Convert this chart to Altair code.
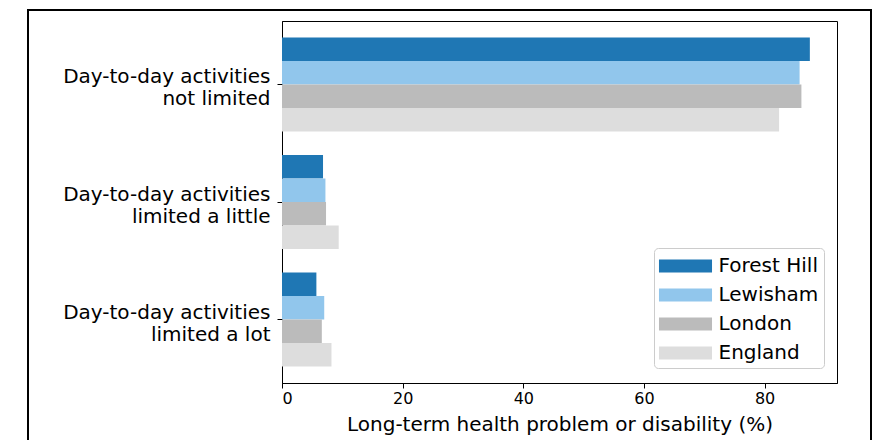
import altair as alt
import pandas as pd

categories = ["Day-to-day activities\nnot limited",
              "Day-to-day activities\nlimited a little",
              "Day-to-day activities\nlimited a lot"]
series = ["Forest Hill", "Lewisham", "London", "England"]
forest_hill = [87.5, 6.8, 5.7]
lewisham = [85.8, 7.2, 7.0]
london = [86.1, 7.3, 6.6]
england = [82.4, 9.4, 8.2]
colors = ["#1f77b4", "#91c6ec", "#bbbbbb", "#dddddd"]
x_ticks = [0, 20, 40, 60, 80]

values = [forest_hill, lewisham, london, england]
rows = []
for s, vals in zip(series, values):
    for c, v in zip(categories, vals):
        rows.append({"category": c, "series": s, "value": v})
df = pd.DataFrame(rows)

FONT = "DejaVu Sans"

bars = alt.Chart(df).mark_bar(opacity=1).encode(
    x=alt.X("value:Q",
            scale=alt.Scale(domain=[0, 92], nice=False, zero=True),
            axis=alt.Axis(values=x_ticks, title="Long-term health problem or disability (%)",
                          grid=False, tickSize=5, labelPadding=2, titlePadding=8,
                          labelFontSize=16)),
    y=alt.Y("category:N", sort=categories,
            scale=alt.Scale(paddingInner=0.2, paddingOuter=0.14),
            axis=alt.Axis(title=None, labelExpr="split(datum.label, '\\n')",
                          labelLineHeight=22, tickSize=5, labelPadding=7, labelLimit=400,
                          labelFontSize=20, labelOffset=-7)),
    yOffset=alt.YOffset("series:N", sort=series,
                        scale=alt.Scale(paddingInner=0, paddingOuter=0)),
    color=alt.Color("series:N", sort=series,
                    scale=alt.Scale(domain=series, range=colors),
                    legend=alt.Legend(title=None, orient="none", legendX=372, legendY=227,
                                      symbolType="M-2.04,-0.5H2.04V0.5H-2.04Z", symbolSize=676,
                                      symbolStrokeWidth=0, symbolOpacity=1, symbolOffset=13.5,
                                      labelFontSize=20, labelFont=FONT, labelColor="black",
                                      labelOffset=20, rowPadding=6, padding=5,
                                      strokeColor="#cccccc", fillColor="white",
                                      cornerRadius=4)),
)

frame = alt.Chart(alt.Data(values=[{}])).mark_rect(
    fill=None, stroke="black", strokeWidth=2
).encode(
    x=alt.value(-254), x2=alt.value(589), y=alt.value(-11), y2=alt.value(470)
)

chart = alt.layer(bars, frame).properties(
    width=555, height=362,
    padding={"left": 19, "top": 1, "right": 0, "bottom": 0},
).configure_view(
    stroke="black", strokeWidth=1
).configure_axis(
    domainColor="black", tickColor="black", labelColor="black", titleColor="black",
    labelFont=FONT, titleFont=FONT, titleFontSize=20,
    titleFontWeight="normal", domainWidth=1, tickWidth=1
)

chart.save("out.html", embed_options={"renderer": "svg", "actions": False})
